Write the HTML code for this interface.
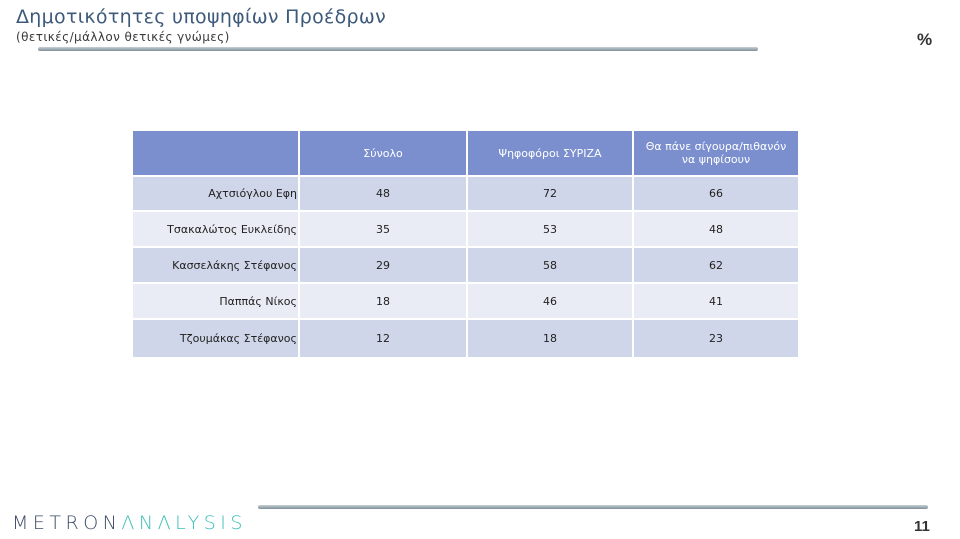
<!DOCTYPE html>
<html><head><meta charset="utf-8"><style>
body{margin:0;width:960px;height:539px;background:#fff;position:relative;overflow:hidden;font-family:"Liberation Sans","DejaVu Sans",sans-serif}
.t1{position:absolute;left:16px;top:6px;font-size:19px;color:#3d5a7a;font-family:"DejaVu Sans",sans-serif;letter-spacing:0.3px}
.t2{position:absolute;left:16px;top:30px;font-size:12px;color:#3a3a3a;font-family:"DejaVu Sans",sans-serif;letter-spacing:0.4px}
.pct{position:absolute;left:917px;top:30px;font-size:17px;font-weight:bold;color:#333}
.bar{position:absolute;height:4px;background:linear-gradient(#c8d0d6,#7e8f98);border-radius:2px}
table{position:absolute;left:131px;top:129px;border-collapse:collapse;font-family:"DejaVu Sans",sans-serif;font-size:11px;color:#222}
td{border:2px solid #fff;padding:0;text-align:center}
tr.h td{background:#7b8fcf;color:#fff;height:44px}
tr.a td{background:#d0d6e9}
tr.b td{background:#e9ecf4}
td.n{text-align:right;padding-right:1px}
.logo{position:absolute;left:12px;top:512px;font-size:19px;letter-spacing:4.5px;color:#3a4a66;font-family:"DejaVu Sans",sans-serif;font-weight:200}
.logo span{color:#3bbfb5}
.pg{position:absolute;left:914px;top:518px;font-size:15px;color:#333;font-weight:bold}
</style></head><body>
<div class="t1">Δημοτικότητες υποψηφίων Προέδρων</div>
<div class="t2">(θετικές/μάλλον θετικές γνώμες)</div>
<div class="pct">%</div>
<div class="bar" style="left:38px;top:47px;width:720px"></div>
<table>
<colgroup><col style="width:167px"><col style="width:168px"><col style="width:166px"><col style="width:166px"></colgroup>
<tr class="h"><td style="background:#7b8fcf"></td><td>Σύνολο</td><td>Ψηφοφόροι ΣΥΡΙΖΑ</td><td>Θα πάνε σίγουρα/πιθανόν<br>να ψηφίσουν</td></tr>
<tr class="a" style="height:35px"><td class="n">Αχτσιόγλου Εφη</td><td>48</td><td>72</td><td>66</td></tr>
<tr class="b" style="height:36px"><td class="n">Τσακαλώτος Ευκλείδης</td><td>35</td><td>53</td><td>48</td></tr>
<tr class="a" style="height:36px"><td class="n">Κασσελάκης Στέφανος</td><td>29</td><td>58</td><td>62</td></tr>
<tr class="b" style="height:36px"><td class="n">Παππάς Νίκος</td><td>18</td><td>46</td><td>41</td></tr>
<tr class="a" style="height:39px"><td class="n">Τζουμάκας Στέφανος</td><td>12</td><td>18</td><td>23</td></tr>
</table>
<div class="bar" style="left:258px;top:505px;width:670px"></div>
<div class="logo">METRON<span>ΛNΛLYSIS</span></div>
<div class="pg">11</div>
</body></html>
